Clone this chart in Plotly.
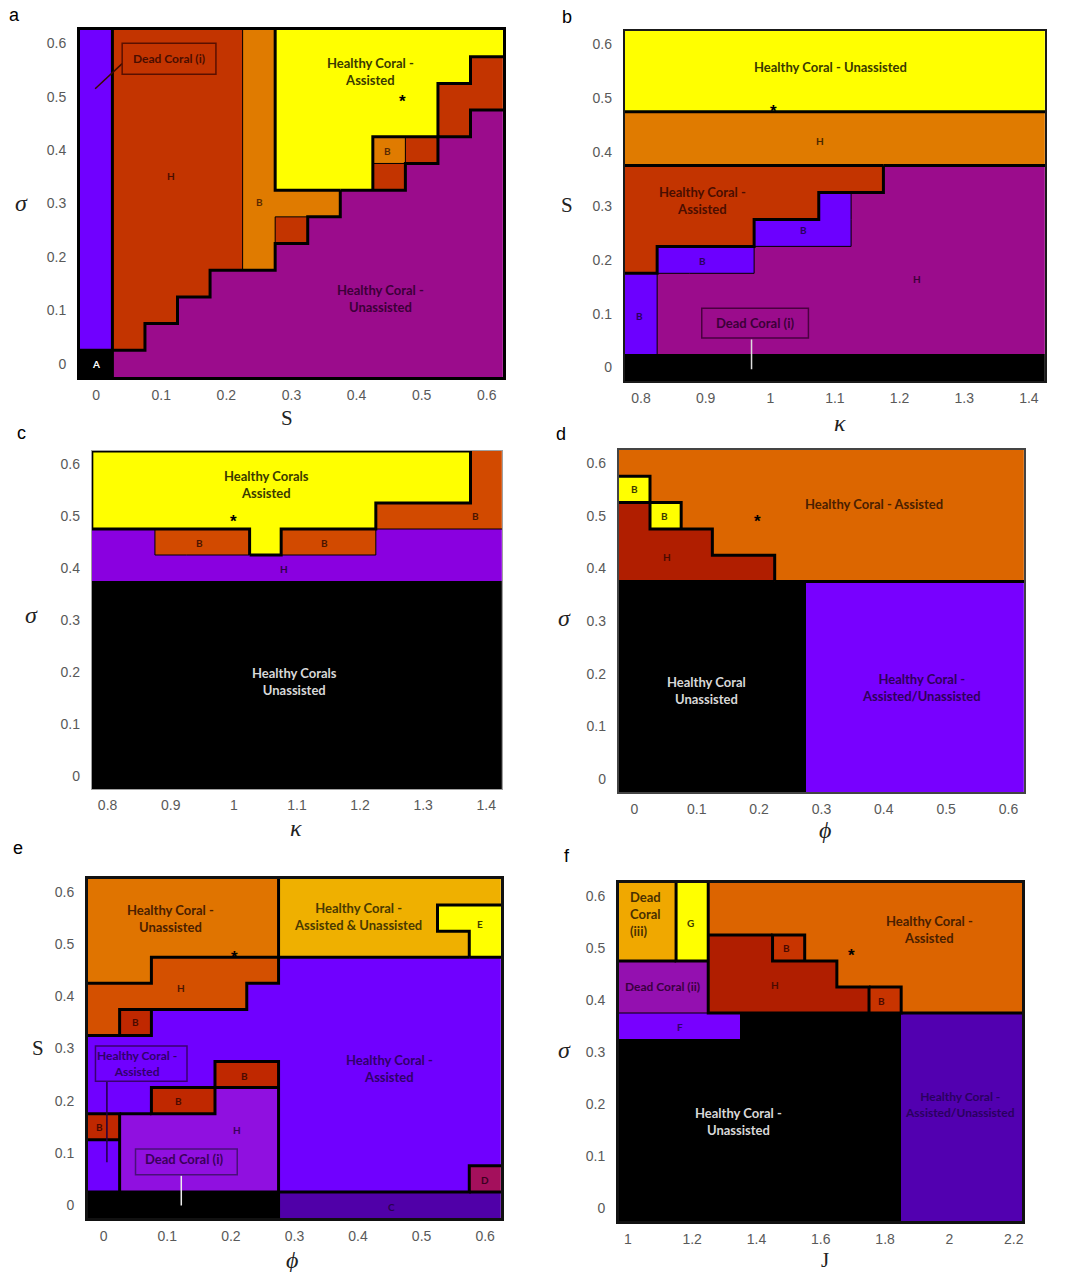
import plotly.graph_objects as go
from collections import defaultdict

FIG_W, FIG_H = 1065, 1272
THICK, THIN = 3, 1

# ---------------- parameter grids (cell centres) ----------------
S_VALUES = [0, 0.05, 0.1, 0.15, 0.2, 0.25, 0.3, 0.35, 0.4, 0.45, 0.5, 0.55, 0.6]
SIGMA_VALUES = [0, 0.05, 0.1, 0.15, 0.2, 0.25, 0.3, 0.35, 0.4, 0.45, 0.5, 0.55, 0.6]
PHI_VALUES = [0, 0.05, 0.1, 0.15, 0.2, 0.25, 0.3, 0.35, 0.4, 0.45, 0.5, 0.55, 0.6]
KAPPA_VALUES = [0.8, 0.85, 0.9, 0.95, 1.0, 1.05, 1.1, 1.15, 1.2, 1.25, 1.3, 1.35, 1.4]
J_VALUES = [1.0, 1.1, 1.2, 1.3, 1.4, 1.5, 1.6, 1.7, 1.8, 1.9, 2.0, 2.1, 2.2]

# tick labels
TICKS_01 = [0, 0.1, 0.2, 0.3, 0.4, 0.5, 0.6]
TICKS_01_TEXT = ["0", "0.1", "0.2", "0.3", "0.4", "0.5", "0.6"]
TICKS_KAPPA = [0.8, 0.9, 1.0, 1.1, 1.2, 1.3, 1.4]
TICKS_KAPPA_TEXT = ["0.8", "0.9", "1", "1.1", "1.2", "1.3", "1.4"]
TICKS_J = [1.0, 1.2, 1.4, 1.6, 1.8, 2.0, 2.2]
TICKS_J_TEXT = ["1", "1.2", "1.4", "1.6", "1.8", "2", "2.2"]

# ---------------- region maps (top row = highest y value) ----------------
# a: s (x) vs sigma (y)
REGIONS_A = [
    "VRRRROYYYYYYY",
    "VRRRROYYYYYYR",
    "VRRRROYYYYYRR",
    "VRRRROYYYYYRM",
    "VRRRROYYYORMM",
    "VRRRROYYYRMMM",
    "VRRRROOOMMMMM",
    "VRRRRORMMMMMM",
    "VRRRROMMMMMMM",
    "VRRRMMMMMMMMM",
    "VRRMMMMMMMMMM",
    "VRMMMMMMMMMMM",
    "KMMMMMMMMMMMM",
]
# b: kappa (x) vs s (y)
REGIONS_B = [
    "YYYYYYYYYYYYY",
    "YYYYYYYYYYYYY",
    "YYYYYYYYYYYYY",
    "OOOOOOOOOOOOO",
    "OOOOOOOOOOOOO",
    "RRRRRRRRMMMMM",
    "RRRRRRVMMMMMM",
    "RRRRVVVMMMMMM",
    "RVVVMMMMMMMMM",
    "VMMMMMMMMMMMM",
    "VMMMMMMMMMMMM",
    "VMMMMMMMMMMMM",
    "KKKKKKKKKKKKK",
]
# c: kappa (x) vs sigma (y)
REGIONS_C = [
    "YYYYYYYYYYYYR",
    "YYYYYYYYYYYYR",
    "YYYYYYYYYRRRR",
    "PPRRRYRRRPPPP",
    "PPPPPPPPPPPPP",
    "KKKKKKKKKKKKK",
    "KKKKKKKKKKKKK",
    "KKKKKKKKKKKKK",
    "KKKKKKKKKKKKK",
    "KKKKKKKKKKKKK",
    "KKKKKKKKKKKKK",
    "KKKKKKKKKKKKK",
    "KKKKKKKKKKKKK",
]
# d: phi (x) vs sigma (y)
REGIONS_D = [
    "OOOOOOOOOOOOO",
    "YOOOOOOOOOOOO",
    "DYOOOOOOOOOOO",
    "DDDOOOOOOOOOO",
    "DDDDDOOOOOOOO",
    "KKKKKKVVVVVVV",
    "KKKKKKVVVVVVV",
    "KKKKKKVVVVVVV",
    "KKKKKKVVVVVVV",
    "KKKKKKVVVVVVV",
    "KKKKKKVVVVVVV",
    "KKKKKKVVVVVVV",
    "KKKKKKVVVVVVV",
]
# e: phi (x) vs s (y)
REGIONS_E = [
    "OOOOOOAAAAAAA",
    "OOOOOOAAAAAEE",
    "OOOOOOAAAAAAE",
    "OORRRRVVVVVVV",
    "RRRRRVVVVVVVV",
    "RBVVVVVVVVVVV",
    "VVVVVVVVVVVVV",
    "VVVVBBVVVVVVV",
    "VVBBHHVVVVVVV",
    "BHHHHHVVVVVVV",
    "VHHHHHVVVVVVV",
    "VHHHHHVVVVVVD",
    "KKKKKKCCCCCCC",
]
# f: J (x) vs sigma (y)
REGIONS_F = [
    "AAGOOOOOOOOOO",
    "AAGOOOOOOOOOO",
    "AAGDDBOOOOOOO",
    "PPPDDDDOOOOOO",
    "PPPDDDDDBOOOO",
    "FFFFKKKKKUUUU",
    "KKKKKKKKKUUUU",
    "KKKKKKKKKUUUU",
    "KKKKKKKKKUUUU",
    "KKKKKKKKKUUUU",
    "KKKKKKKKKUUUU",
    "KKKKKKKKKUUUU",
    "KKKKKKKKKUUUU",
]

# ---------------- panel styling ----------------
PANELS = [
    dict(
        letter="a", grid=REGIONS_A, x=S_VALUES, y=SIGMA_VALUES,
        colors={"V": "#7000ff", "K": "#000000", "R": "#c33400", "O": "#e07b00",
                "Y": "#ffff00", "M": "#9b0c8c"},
        thin=["OR"], none=[], border="",
        box_px=(80, 30, 504, 377), xrange=[-0.025, 0.625],
        xticks=(TICKS_01, TICKS_01_TEXT), frame=("#000000", 2.5),
        xtitle=("S", 288, 418, False), ytitle=("σ", 22, 203, True),
        letter_px=(15, 15),
        labels=[
            ("Dead Coral (i)", 0.112, 0.571, "#4a0e00", 12),
            ("H", 0.115, 0.351, "#4a0e00", 10),
            ("B", 0.251, 0.303, "#5a2a00", 10),
            ("Healthy Coral -<br>Assisted", 0.421, 0.547, "#3a3a00", 13),
            ("B", 0.447, 0.398, "#5a2a00", 10),
            ("Healthy Coral -<br>Unassisted", 0.4375, 0.1225, "#3c0038", 13),
            ("A", 0.0, 0.0, "#ffffff", 10),
        ],
        stars=[(0.47, 0.5)],
        boxes=[(0.04, 0.542, 0.184, 0.6, "#5a1000")],
        leaders=[((0.04, -0.0015), (0.562, 0.515), "#3a0a00")],
    ),
    dict(
        letter="b", grid=REGIONS_B, x=KAPPA_VALUES, y=S_VALUES,
        colors={"Y": "#ffff00", "O": "#e07b00", "R": "#c33400", "V": "#6c00ff",
                "M": "#9b0c8c", "K": "#000000"},
        thin=["VM"], none=["KM", "KV"], border="",
        box_px=(626, 31, 1047, 381), xrange=[0.775, 1.425],
        xticks=(TICKS_KAPPA, TICKS_KAPPA_TEXT), frame=("#1a1a1a", 2),
        xtitle=("κ", 842, 423, True), ytitle=("S", 568, 205, False),
        letter_px=(568, 17),
        labels=[
            ("Healthy Coral - Unassisted", 1.093, 0.558, "#3a3a00", 13),
            ("H", 1.077, 0.42, "#4a2800", 10),
            ("Healthy Coral -<br>Assisted", 0.895, 0.31, "#4a0e00", 13),
            ("B", 1.052, 0.255, "#2a0060", 10),
            ("B", 0.895, 0.197, "#2a0060", 10),
            ("H", 1.227, 0.165, "#3c0038", 10),
            ("B", 0.797, 0.096, "#2a0060", 10),
            ("Dead Coral (i)", 0.977, 0.0836, "#3c0038", 13),
        ],
        stars=[(1.005, 0.485)],
        boxes=[(0.894, 0.055, 1.059, 0.11, "#4a0040")],
        leaders=[((0.971, 0.971), (0.052, -0.003), "#dddddd")],
    ),
    dict(
        letter="c", grid=REGIONS_C, x=KAPPA_VALUES, y=SIGMA_VALUES,
        colors={"Y": "#ffff00", "R": "#d24a00", "P": "#8a00e0", "K": "#000000"},
        thin=["RP"], none=["PK"], border="Y",
        box_px=(92, 451, 503, 789), xrange=[0.775, 1.425],
        xticks=(TICKS_KAPPA, TICKS_KAPPA_TEXT), frame=("#a0a0a0", 1),
        xtitle=("κ", 297, 828, True), ytitle=("σ", 32, 615, True),
        letter_px=(22, 433),
        labels=[
            ("Healthy Corals<br>Assisted", 1.052, 0.56, "#3a3a00", 13),
            ("B", 0.945, 0.449, "#4a1500", 10),
            ("B", 1.144, 0.449, "#4a1500", 10),
            ("B", 1.383, 0.5, "#4a1500", 10),
            ("H", 1.08, 0.399, "#30004a", 10),
            ("Healthy Corals<br>Unassisted", 1.096, 0.181, "#d8d8d8", 13),
        ],
        stars=[(1.0, 0.499)],
        boxes=[], leaders=[],
    ),
    dict(
        letter="d", grid=REGIONS_D, x=PHI_VALUES, y=SIGMA_VALUES,
        colors={"O": "#dc6600", "Y": "#ffff00", "D": "#b01e00", "K": "#000000",
                "V": "#7800ff"},
        thin=[], none=["KV"], border="",
        box_px=(620, 450, 1026, 792), xrange=[-0.025, 0.625],
        xticks=(TICKS_01, TICKS_01_TEXT), frame=("#444444", 2),
        xtitle=("ϕ", 827, 830, True), ytitle=("σ", 566, 618, True),
        letter_px=(562, 434),
        labels=[
            ("B", 0.0, 0.55, "#3a3a00", 10),
            ("B", 0.048, 0.5, "#3a3a00", 10),
            ("Healthy Coral - Assisted", 0.384, 0.522, "#4a2000", 13),
            ("H", 0.052, 0.422, "#4a0a00", 10),
            ("Healthy Coral<br>Unassisted", 0.116, 0.168, "#d8d8d8", 13),
            ("Healthy Coral -<br>Assisted/Unassisted", 0.461, 0.173, "#30005a", 13),
        ],
        stars=[(0.197, 0.498)],
        boxes=[], leaders=[],
    ),
    dict(
        letter="e", grid=REGIONS_E, x=PHI_VALUES, y=S_VALUES,
        colors={"O": "#e07400", "A": "#efb000", "E": "#ffff00", "R": "#d45000",
                "B": "#c02800", "V": "#7000ff", "H": "#9010e0", "K": "#000000",
                "C": "#5000a8", "D": "#a4105c"},
        thin=[], none=[], border="",
        box_px=(88, 879, 502, 1218), xrange=[-0.025, 0.625],
        xticks=(TICKS_01, TICKS_01_TEXT), frame=("#111111", 2.5),
        xtitle=("ϕ", 293, 1260, True), ytitle=("S", 38, 1048, False),
        letter_px=(18, 848),
        labels=[
            ("Healthy Coral -<br>Unassisted", 0.105, 0.55, "#4a2000", 13),
            ("Healthy Coral -<br>Assisted &amp; Unassisted", 0.4, 0.553, "#4a3a00", 13),
            ("E", 0.592, 0.539, "#3a3a00", 10),
            ("H", 0.121, 0.4165, "#4a1500", 10),
            ("B", 0.05, 0.35, "#4a0a00", 10),
            ("Healthy Coral -<br>Assisted", 0.053, 0.272, "#30006a", 12),
            ("B", 0.2217, 0.248, "#4a0a00", 10),
            ("B", 0.118, 0.2, "#4a0a00", 10),
            ("B", -0.007, 0.15, "#4a0a00", 10),
            ("H", 0.21, 0.143, "#3a005a", 10),
            ("Dead Coral (i)", 0.127, 0.088, "#3a005a", 13),
            ("Healthy Coral -<br>Assisted", 0.449, 0.262, "#30006a", 13),
            ("D", 0.6, 0.047, "#3a0020", 10),
            ("C", 0.452, -0.0045, "#2a0050", 10),
        ],
        stars=[(0.206, 0.484)],
        boxes=[(-0.013, 0.237, 0.131, 0.305, "#3a0070"),
               (0.05, 0.058, 0.21, 0.1075, "#4a107a")],
        leaders=[((0.005, 0.005), (0.237, 0.082), "#200040"),
                 ((0.122, 0.122), (0.056, -0.001), "#eeeeee")],
    ),
    dict(
        letter="f", grid=REGIONS_F, x=J_VALUES, y=SIGMA_VALUES,
        colors={"A": "#f0a800", "G": "#ffff00", "O": "#dc6400", "D": "#b01e00",
                "B": "#c83400", "P": "#9410b0", "F": "#7800ff", "K": "#000000",
                "U": "#5200b0"},
        thin=["FP"], none=["FK", "KU"], border="",
        box_px=(620, 883, 1024, 1221), xrange=[0.972, 2.226],
        xticks=(TICKS_J, TICKS_J_TEXT), frame=("#111111", 2.5),
        xtitle=("J", 827, 1260, False), ytitle=("σ", 566, 1050, True),
        letter_px=(568, 856),
        labels=[
            ("G", 1.194, 0.548, "#3a3a00", 10),
            ("Healthy Coral -<br>Assisted", 1.938, 0.536, "#4a2000", 13),
            ("B", 1.492, 0.5, "#4a0a00", 10),
            ("H", 1.458, 0.428, "#4a0a00", 10),
            ("B", 1.789, 0.398, "#4a0a00", 10),
            ("Dead Coral (ii)", 1.109, 0.426, "#3a0040", 12),
            ("F", 1.163, 0.349, "#30006a", 10),
            ("Healthy Coral -<br>Unassisted", 1.344, 0.167, "#d8d8d8", 13),
            ("Healthy Coral -<br>Assisted/Unassisted", 2.034, 0.199, "#2a0060", 12),
        ],
        left_labels=[("Dead<br>Coral<br>(iii)", 1.0, 0.565, "#4a3000", 13)],
        stars=[(1.694, 0.495)],
        boxes=[], leaders=[],
    ),
]

LABEL_FONT = "Lato, 'Open Sans', sans-serif"
TICK_FONT = dict(family="'Liberation Sans', Arial, sans-serif", size=14, color="#595959")


def pair_key(a, b):
    return "".join(sorted(a + b))


def edge_width(p, a, b):
    if "." in (a, b):
        inner = b if a == "." else a
        return THICK if inner in p["border"] else 0
    k = pair_key(a, b)
    if k in [pair_key(s[0], s[1]) for s in p["none"]]:
        return 0
    if k in [pair_key(s[0], s[1]) for s in p["thin"]]:
        return THIN
    return THICK


def chain(edges):
    """Join unit edges into continuous polylines so corners are mitred."""
    adj = defaultdict(list)
    for e in edges:
        adj[e[0]].append(e)
        adj[e[1]].append(e)
    used = set()
    paths = []
    starts = sorted(adj, key=lambda v: len(adj[v]) % 2 == 0)
    for v in starts:
        while any(e not in used for e in adj[v]):
            path = [v]
            cur = v
            while True:
                cand = [e for e in adj[cur] if e not in used]
                if not cand:
                    break
                e = cand[0]
                used.add(e)
                cur = e[1] if e[0] == cur else e[0]
                path.append(cur)
            paths.append(path)
    return paths


def px_x(px):
    return px / FIG_W


def px_y(py):
    return 1 - py / FIG_H


def paper_text(text, ax, ay, font):
    return dict(text=text, x=px_x(ax), y=px_y(ay), xref="paper", yref="paper",
                xanchor="center", yanchor="middle", showarrow=False, font=font)


fig = go.Figure()
layout = dict(width=FIG_W, height=FIG_H, margin=dict(l=0, r=0, t=0, b=0),
              paper_bgcolor="white", plot_bgcolor="white", showlegend=False)
annotations = []
shapes = []

for n, p in enumerate(PANELS, start=1):
    sfx = "" if n == 1 else str(n)
    xref, yref = "x" + sfx, "y" + sfx

    codes = list(p["colors"].keys())
    index = {c: k for k, c in enumerate(codes)}
    rows = p["grid"][::-1]
    z = [[index[c] for c in row] for row in rows]
    nc = len(codes)
    scale = []
    for k, c in enumerate(codes):
        scale.append([k / nc, p["colors"][c]])
        scale.append([(k + 1) / nc, p["colors"][c]])
    fig.add_trace(go.Heatmap(z=z, x=p["x"], y=p["y"], colorscale=scale,
                             zmin=-0.5, zmax=nc - 0.5, showscale=False,
                             hoverinfo="skip", xaxis=xref, yaxis=yref))

    # region boundaries
    ny, nx = len(rows), len(rows[0])

    def cell(i, j):
        if 0 <= i < nx and 0 <= j < ny:
            return rows[j][i]
        return "."

    groups = defaultdict(list)
    for j in range(ny):
        for i in range(-1, nx):
            a, b = cell(i, j), cell(i + 1, j)
            if a != b:
                w = edge_width(p, a, b)
                if w:
                    groups[w].append(((i + 1, j), (i + 1, j + 1)))
    for j in range(-1, ny):
        for i in range(nx):
            a, b = cell(i, j), cell(i, j + 1)
            if a != b:
                w = edge_width(p, a, b)
                if w:
                    groups[w].append(((i, j + 1), (i + 1, j + 1)))
    dx = p["x"][1] - p["x"][0]
    dy = p["y"][1] - p["y"][0]
    for w in sorted(groups):
        xs, ys = [], []
        for path in chain(groups[w]):
            for (i, j) in path:
                xs.append(p["x"][0] - dx / 2 + i * dx)
                ys.append(p["y"][0] - dy / 2 + j * dy)
            xs.append(None)
            ys.append(None)
        fig.add_trace(go.Scatter(x=xs, y=ys, mode="lines",
                                 line=dict(color="black", width=w),
                                 hoverinfo="skip", xaxis=xref, yaxis=yref))

    # callout boxes and leader lines
    for (x0, y0, x1, y1, col) in p["boxes"]:
        shapes.append(dict(type="rect", xref=xref, yref=yref, x0=x0, y0=y0, x1=x1, y1=y1,
                           line=dict(color=col, width=1.5), fillcolor="rgba(0,0,0,0)"))
    for (lx, ly, col) in p["leaders"]:
        fig.add_trace(go.Scatter(x=list(lx), y=list(ly), mode="lines",
                                 line=dict(color=col, width=1.5),
                                 hoverinfo="skip", xaxis=xref, yaxis=yref))

    # axes
    l, t, r, b = p["box_px"]
    fcol, fw = p["frame"]
    common = dict(showgrid=False, zeroline=False, showline=True, mirror=True,
                  linecolor=fcol, linewidth=fw, ticks="", tickfont=TICK_FONT,
                  fixedrange=True)
    layout["xaxis" + sfx] = dict(domain=[px_x(l), px_x(r)], range=p["xrange"],
                                 anchor=yref, tickvals=p["xticks"][0],
                                 ticktext=p["xticks"][1], ticklabelstandoff=3, **common)
    layout["yaxis" + sfx] = dict(domain=[px_y(b), px_y(t)], range=[-0.025, 0.625],
                                 anchor=xref, tickvals=TICKS_01, ticktext=TICKS_01_TEXT,
                                 ticklabelstandoff=8, **common)

    # region labels
    for (txt, x, y, col, size) in p["labels"]:
        annotations.append(dict(text=txt, x=x, y=y, xref=xref, yref=yref, showarrow=False,
                                xanchor="center", yanchor="middle",
                                font=dict(family=LABEL_FONT, size=size, color=col,
                                          weight="bold")))
    for (txt, x, y, col, size) in p.get("left_labels", []):
        annotations.append(dict(text=txt, x=x, y=y, xref=xref, yref=yref, showarrow=False,
                                xanchor="left", yanchor="middle", align="left",
                                font=dict(family=LABEL_FONT, size=size, color=col,
                                          weight="bold")))
    for (x, y) in p["stars"]:
        annotations.append(dict(text="<b>*</b>", x=x, y=y, xref=xref, yref=yref,
                                xanchor="center", yanchor="middle",
                                showarrow=False, yshift=-5,
                                font=dict(family="'Liberation Sans', Arial", size=17,
                                          color="black")))

    # axis titles and panel letter
    for (txt, ax, ay, ital) in (p["xtitle"], p["ytitle"]):
        annotations.append(paper_text(
            ("<i>%s</i>" % txt) if ital else txt, ax, ay,
            dict(family="'Liberation Serif', 'DejaVu Serif', serif",
                 size=24 if ital else 21, color="#222222")))
    lx, ly = p["letter_px"]
    annotations.append(paper_text(p["letter"], lx, ly,
                                  dict(family="'Liberation Sans', Arial", size=18,
                                       color="black")))

layout["annotations"] = annotations
layout["shapes"] = shapes
fig.update_layout(**layout)
fig.write_html("out.html")
